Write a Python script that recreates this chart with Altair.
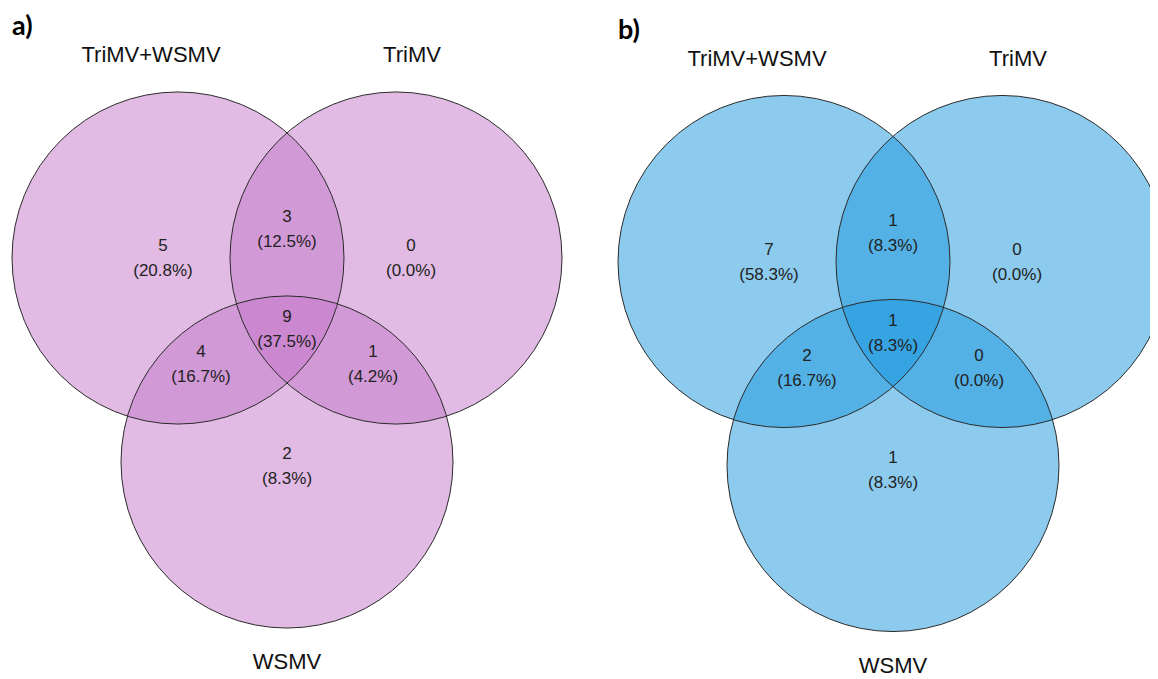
import altair as alt
import pandas as pd

# ---------------- data ----------------
set_names = ["TriMV+WSMV", "TriMV", "WSMV"]
regions = ["A", "B", "AB", "ABC", "AC", "BC", "C"]
panels = ["a", "b"]
panel_tags = ["a)", "b)"]
counts_a = [5, 0, 3, 9, 4, 1, 2]
pcts_a = ["(20.8%)", "(0.0%)", "(12.5%)", "(37.5%)", "(16.7%)", "(4.2%)", "(8.3%)"]
counts_b = [7, 0, 1, 1, 2, 0, 1]
pcts_b = ["(58.3%)", "(0.0%)", "(8.3%)", "(8.3%)", "(16.7%)", "(0.0%)", "(8.3%)"]
panel_fills = ["#C377C9", "#1997DD"]

# ---------------- layout (Venn geometry in px, converted to radius units) ----------------
R = 166.0                                   # circle radius in px = 1 unit
W, H = 1142, 660                            # plot area
panel_centre = [(279, 352), (885, 355.5)]   # diagram centres within plot area
circle_off = [(-109, -102), (109, -102), (0, 102)]
region_off = [(-124, -102), (124, -102), (0, -131), (0, -31), (-86, 4), (86, 4), (0, 106)]
cat_off = [(-136, -305), (125, -305), (0, 302)]
tag_off = (-275, -333)
FONT = "Liberation Sans"

circ_rows, lab_rows, cat_rows, tag_rows = [], [], [], []
for pi, (pan, counts, pcts) in enumerate(zip(panels, [counts_a, counts_b], [pcts_a, pcts_b])):
    cx, cy = panel_centre[pi]
    for s, (dx, dy) in zip(set_names, circle_off):
        circ_rows.append({"panel": pan, "set": s, "ux": (cx + dx) / R, "uy": (cy + dy) / R})
    for r, c, p, (dx, dy) in zip(regions, counts, pcts, region_off):
        lab_rows.append({"panel": pan, "region": r, "count": str(c), "pct": p,
                         "ux": (cx + dx) / R, "uy": (cy + dy) / R})
    for s, (dx, dy) in zip(set_names, cat_off):
        cat_rows.append({"panel": pan, "name": s, "ux": (cx + dx) / R, "uy": (cy + dy) / R})
    tag_rows.append({"panel": pan, "tag": panel_tags[pi],
                     "ux": (cx + tag_off[0]) / R, "uy": (cy + tag_off[1]) / R})

circles = pd.DataFrame(circ_rows)
labels = pd.DataFrame(lab_rows)
cats = pd.DataFrame(cat_rows)
tags = pd.DataFrame(tag_rows)

X = alt.X("ux:Q", scale=alt.Scale(domain=[0, W / R], nice=False, zero=False), axis=None)
Y = alt.Y("uy:Q", scale=alt.Scale(domain=[0, H / R], nice=False, zero=False, reverse=True),
          axis=None)
size = (2 * R) ** 2

fills = alt.Chart(circles).mark_point(
    shape="circle", filled=True, fillOpacity=0.5, strokeWidth=0, opacity=1, clip=True
).encode(
    x=X, y=Y, size=alt.value(size),
    fill=alt.Fill("panel:N", scale=alt.Scale(domain=panels, range=panel_fills), legend=None),
)
strokes = alt.Chart(circles).mark_point(
    shape="circle", filled=False, stroke="#2b2b2b", strokeWidth=1, opacity=1, clip=True
).encode(x=X, y=Y, size=alt.value(size))
t_count = alt.Chart(labels).mark_text(
    font=FONT, fontSize=17, color="#222222", dy=-12, baseline="middle"
).encode(x=X, y=Y, text="count:N")
t_pct = alt.Chart(labels).mark_text(
    font=FONT, fontSize=17, color="#222222", dy=13, baseline="middle"
).encode(x=X, y=Y, text="pct:N")
t_cat = alt.Chart(cats).mark_text(
    font=FONT, fontSize=22, color="#111111", baseline="middle"
).encode(x=X, y=Y, text="name:N")
t_tag = alt.Chart(tags).mark_text(
    font="Lato", fontSize=27, fontWeight="bold", color="#000000",
    align="left", baseline="middle"
).encode(x=X, y=Y, text="tag:N")

chart = alt.layer(fills, strokes, t_count, t_pct, t_cat, t_tag).properties(
    width=W, height=H, padding=0, background="white"
).configure_view(stroke=None)

chart.save("out.html", embed_options={"renderer": "svg", "actions": False})
